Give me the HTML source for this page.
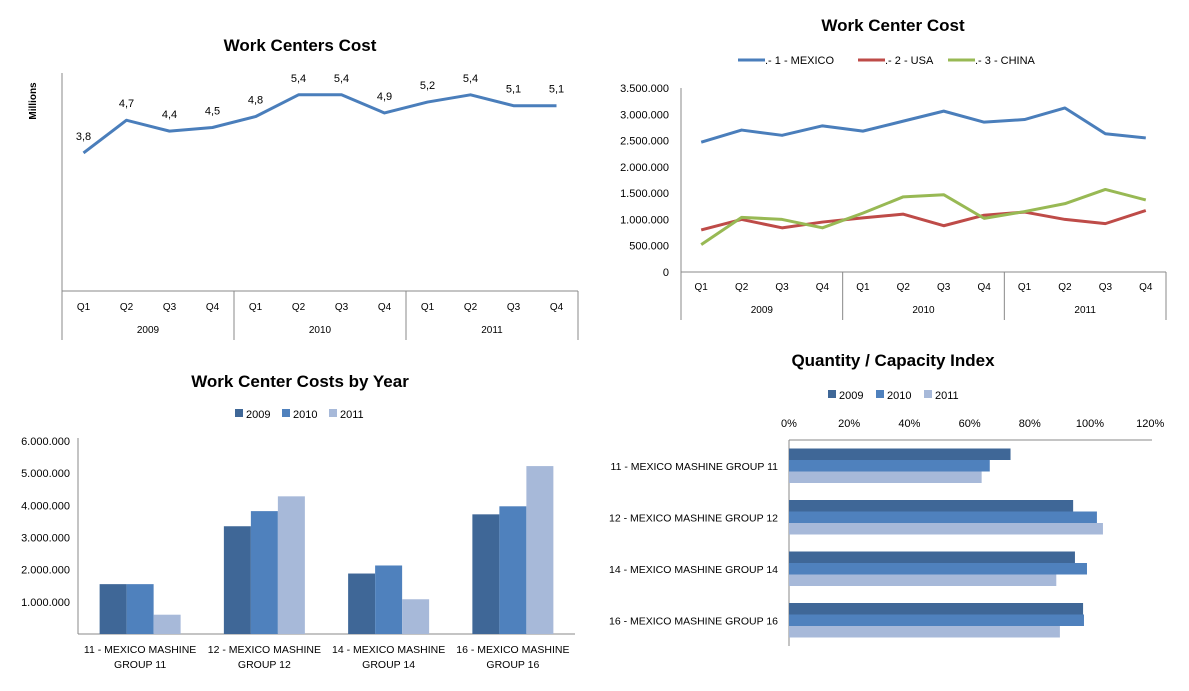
<!DOCTYPE html>
<html><head><meta charset="utf-8"><style>
body{margin:0;background:#fff;}
svg{display:block;font-family:"Liberation Sans",sans-serif;}
</style></head><body>
<svg id="s" width="1189" height="691">
<text x="300" y="51" text-anchor="middle" font-size="17" font-weight="bold">Work Centers Cost</text>
<text transform="translate(36,101) rotate(-90)" text-anchor="middle" font-size="10" font-weight="bold">Millions</text>
<text x="893" y="31" text-anchor="middle" font-size="17" font-weight="bold">Work Center Cost</text>
<text x="300" y="387" text-anchor="middle" font-size="17" font-weight="bold">Work Center Costs by Year</text>
<text x="893" y="366" text-anchor="middle" font-size="17" font-weight="bold">Quantity / Capacity Index</text>
<g id="g1"></g><g id="g2"></g><g id="g3"></g><g id="g4"></g>
</svg>
<script>
const quarters=["Q1","Q2","Q3","Q4","Q1","Q2","Q3","Q4","Q1","Q2","Q3","Q4"];
const years=["2009","2010","2011"];
const totalCost=[3.8,4.7,4.4,4.5,4.8,5.4,5.4,4.9,5.2,5.4,5.1,5.1];
const mexico=[2470000,2700000,2600000,2780000,2680000,2870000,3060000,2850000,2900000,3120000,2630000,2550000];
const usa=[800000,1000000,840000,950000,1030000,1100000,880000,1080000,1140000,1000000,920000,1170000];
const china=[520000,1040000,1000000,840000,1120000,1430000,1470000,1020000,1150000,1300000,1570000,1370000];
const lineNames=[".- 1 - MEXICO",".- 2 - USA",".- 3 - CHINA"];
const yTicks2=[0,500000,1000000,1500000,2000000,2500000,3000000,3500000];
const groups=["11 - MEXICO MASHINE GROUP 11","12 - MEXICO MASHINE GROUP 12","14 - MEXICO MASHINE GROUP 14","16 - MEXICO MASHINE GROUP 16"];
const cost2009=[1550000,3350000,1880000,3720000];
const cost2010=[1550000,3820000,2130000,3970000];
const cost2011=[600000,4280000,1080000,5220000];
const yTicks3=[1000000,2000000,3000000,4000000,5000000,6000000];
const idx2009=[73.6,94.4,95,97.7];
const idx2010=[66.7,102.3,99,98];
const idx2011=[64,104.3,88.8,90];
const xTicks4=[0,20,40,60,80,100,120];
const barColors=["#3f6797","#4f81bd","#a7b9d9"];
const NS="http://www.w3.org/2000/svg";
function mk(p,tag,a,txt){const e=document.createElementNS(NS,tag);for(const k in a)e.setAttribute(k,a[k]);if(txt!==undefined)e.textContent=txt;p.appendChild(e);return e;}
const fmt=v=>String(v).replace(/\B(?=(\d{3})+(?!\d))/g,".");

// chart 1
(function(){const g=document.getElementById('g1');
const L=62,R=578,T=73,B=291;const step=(R-L)/12;
const x=i=>L+step*(i+0.5), y=v=>B-(v/6)*(B-T);
let l=mk(g,'line',{x1:L,y1:T,x2:L,y2:340,stroke:'#888'});
l=mk(g,'line',{x1:L,y1:B,x2:R,y2:B,stroke:'#888'});
for(let k=1;k<=3;k++){const e=mk(g,'line',{x1:L+step*4*k,y1:B,x2:L+step*4*k,y2:340,stroke:'#888'});}
quarters.forEach((q,i)=>{const t=mk(g,'text',{x:x(i),y:310,'text-anchor':'middle','font-size':10},q);});
years.forEach((yr,k)=>{const t=mk(g,'text',{x:L+step*(4*k+2),y:333,'text-anchor':'middle','font-size':10},yr);});
const p=mk(g,'polyline',{points:totalCost.map((v,i)=>x(i)+','+y(v)).join(' '),fill:'none',stroke:'#4a7ebb','stroke-width':3,'stroke-linejoin':'round'});

totalCost.forEach((v,i)=>{const t=mk(g,'text',{x:x(i),y:y(v)-13,'text-anchor':'middle','font-size':11},String(v).replace('.',','));});
})();

// chart 2
(function(){const g=document.getElementById('g2');
const L=681,R=1166,T=88,B=272;const step=(R-L)/12;
const x=i=>L+step*(i+0.5), y=v=>B-(v/3500000)*(B-T);
let l=mk(g,'line',{x1:L,y1:T,x2:L,y2:320,stroke:'#888'});
l=mk(g,'line',{x1:L,y1:B,x2:R,y2:B,stroke:'#888'});
for(let k=1;k<=3;k++){const e=mk(g,'line',{x1:L+step*4*k,y1:B,x2:L+step*4*k,y2:320,stroke:'#888'});}
yTicks2.forEach(v=>{const t=mk(g,'text',{x:669,y:y(v)+4,'text-anchor':'end','font-size':11},fmt(v));});
quarters.forEach((q,i)=>{const t=mk(g,'text',{x:x(i),y:290,'text-anchor':'middle','font-size':10},q);});
years.forEach((yr,k)=>{const t=mk(g,'text',{x:L+step*(4*k+2),y:313,'text-anchor':'middle','font-size':10},yr);});
const cols=['#4a7ebb','#be4b48','#98b954'];const series=[mexico,usa,china];
series.forEach((s,j)=>{const p=mk(g,'polyline',{points:s.map((v,i)=>x(i)+','+y(v)).join(' '),fill:'none',stroke:cols[j],'stroke-width':3,'stroke-linejoin':'round'});
});
const lx=[738,858,948];
lineNames.forEach((n,j)=>{const e=mk(g,'line',{x1:lx[j],y1:60,x2:lx[j]+27,y2:60,stroke:cols[j],'stroke-width':3});
const t=mk(g,'text',{x:lx[j]+27,y:64,'font-size':11},n);});
})();

// chart 3
(function(){const g=document.getElementById('g3');
const L=78,R=575,B=634,T=441;const band=(R-L)/4;const bw=27;
const y=v=>B-(v/6000000)*(B-T);
let l=mk(g,'line',{x1:L,y1:T-3,x2:L,y2:B,stroke:'#888'});
l=mk(g,'line',{x1:L,y1:B,x2:R,y2:B,stroke:'#888'});
yTicks3.forEach(v=>{const t=mk(g,'text',{x:70,y:y(v)+4,'text-anchor':'end','font-size':11},fmt(v));});
[cost2009,cost2010,cost2011].forEach((s,j)=>s.forEach((v,i)=>{const x0=L+band*i+(band-3*bw)/2+bw*j;
const r=mk(g,'rect',{x:x0,y:y(v),width:bw,height:B-y(v),fill:barColors[j]});}));
groups.forEach((n,i)=>{const cx=L+band*(i+0.5);const parts=n.split(' GROUP ');
const t=mk(g,'text',{x:cx,y:653,'text-anchor':'middle','font-size':10.5},parts[0]);
const t2=mk(g,'text',{x:cx,y:668,'text-anchor':'middle','font-size':10.5},'GROUP '+parts[1]);});
const lx=[235,282,329];years.forEach((yr,j)=>{const r=mk(g,'rect',{x:lx[j],y:409,width:8,height:8,fill:barColors[j]});
const t=mk(g,'text',{x:lx[j]+11,y:418,'font-size':11},yr);});
})();

// chart 4
(function(){const g=document.getElementById('g4');
const L=789,R=1152,T=440,B=646;const band=(B-T)/4;const bh=11.5;
const x=v=>L+v*3.01;
let l=mk(g,'line',{x1:L,y1:T,x2:L,y2:B,stroke:'#888'});
l=mk(g,'line',{x1:L,y1:T,x2:R,y2:T,stroke:'#888'});
xTicks4.forEach(v=>{const t=mk(g,'text',{x:x(v),y:427,'text-anchor':'middle','font-size':11},v+'%');});
[idx2009,idx2010,idx2011].forEach((s,j)=>s.forEach((v,i)=>{const y0=T+band*i+(band-3*bh)/2+bh*j;
const r=mk(g,'rect',{x:L,y:y0,width:x(v)-L,height:bh,fill:barColors[j]});}));
groups.forEach((n,i)=>{const t=mk(g,'text',{x:778,y:T+band*(i+0.5)+4,'text-anchor':'end','font-size':10.5},n);});
const lx=[828,876,924];years.forEach((yr,j)=>{const r=mk(g,'rect',{x:lx[j],y:390,width:8,height:8,fill:barColors[j]});
const t=mk(g,'text',{x:lx[j]+11,y:399,'font-size':11},yr);});
})();
</script>
</body></html>
